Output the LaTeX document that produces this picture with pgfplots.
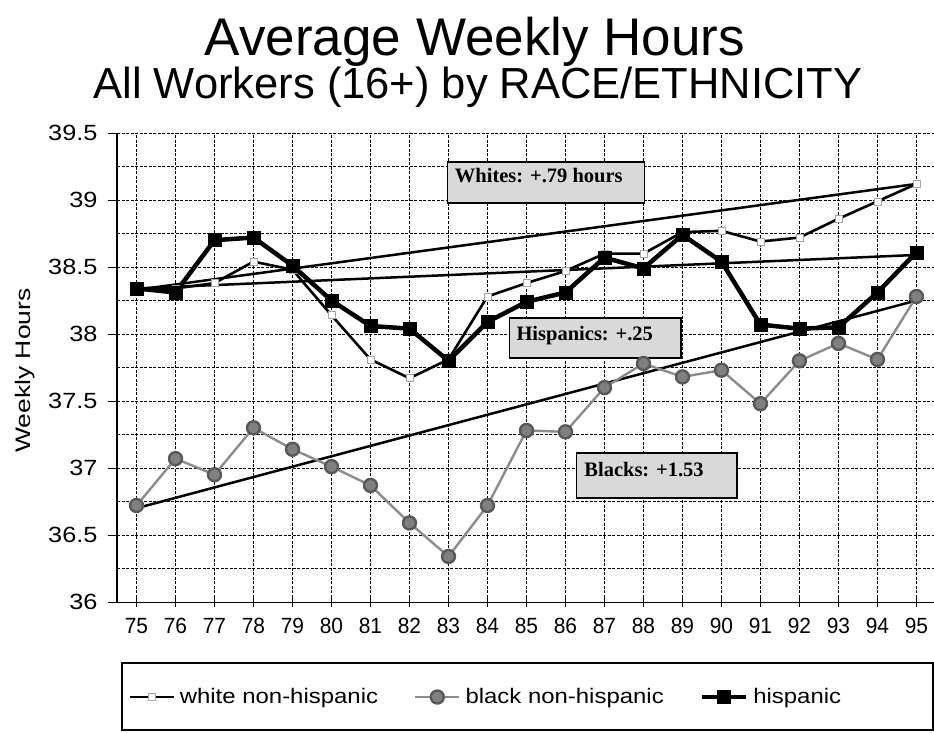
\documentclass[border=0pt]{standalone}
\usepackage{fontspec}
\setmainfont{Liberation Sans}
\newfontfamily\timesf{Liberation Serif}
\newfontfamily\widesans[FakeStretch=1.26]{Liberation Sans}
\newfontfamily\ysans[FakeStretch=1.15]{Liberation Sans}
\newfontfamily\xsans[FakeStretch=0.95]{Liberation Sans}
\newfontfamily\legsans[FakeStretch=1.14]{Liberation Sans}
\usepackage{pgfplots}
\pgfplotsset{compat=1.18}
\begin{document}
\begin{tikzpicture}[x=1pt,y=1pt]
\useasboundingbox (0,0) rectangle (934,732);
\node[anchor=base,font=\fontsize{53}{53}\selectfont] at (475,676.5) {Average Weekly Hours};
\node[anchor=base,font=\fontsize{43.5}{43.5}\selectfont] at (478,633) {All Workers (16+) by RACE/ETHNICITY};
\node[rotate=90,font=\widesans\fontsize{21}{21}\selectfont] at (25,361.5) {Weekly Hours};
\begin{axis}[
  at={(117pt,130pt)}, anchor=south west,
  scale only axis, width=817pt, height=469pt,
  xmin=74.5, xmax=95.45, ymin=36, ymax=39.5,
  xtick={75,...,95}, ytick={36,36.5,...,39.5},
  minor ytick={36.25,36.75,...,39.25},
  axis x line*=bottom, axis y line*=left,
  axis line style={-, black},
  x axis line style={line width=1pt},
  y axis line style={line width=2pt},
  grid=both,
  major grid style={black, line width=0.75pt, dash pattern=on 3pt off 1.5pt},
  minor grid style={black, line width=0.75pt, dash pattern=on 3pt off 1.5pt},
  minor tick length=0pt,
  xtick style={black, line width=0.8pt},
  ytick style={black, line width=0.8pt},
  xtick align=center, ytick align=outside,
  major tick length=9pt,
  xticklabel style={font=\xsans\fontsize{22}{22}\selectfont, yshift=-8pt},
  yticklabel style={font=\ysans\fontsize{22}{22}\selectfont, xshift=-7pt},
  /pgf/number format/assume math mode=true,
  clip=false,
  legend image code/.code={\draw[mark repeat=2,mark phase=2] plot coordinates {(0pt,0pt)(22pt,0pt)(44pt,0pt)};},
  legend style={draw=none, fill=none, at={(0.0135,-0.2026)}, anchor=west,
    legend columns=3, inner sep=0pt,
    /tikz/every even column/.append style={column sep=34pt},
    /tikz/every odd column/.append style={column sep=3pt},
    font=\legsans\fontsize{21}{21}\selectfont},
]
% trend lines
\addplot[black, line width=2.5pt, forget plot] coordinates {(75,38.33) (95,39.12)};
\addplot[black, line width=2.5pt, forget plot] coordinates {(75,38.34) (95,38.59)};
\addplot[black, line width=2.5pt, forget plot] coordinates {(75,36.70) (95,38.25)};
% white non-hispanic
\addplot[black, line width=2.6pt, mark=square*, mark size=3.5pt,
  mark options={fill=white, draw=gray!70, solid, line width=0.5pt}] coordinates {
(75,38.33) (76,38.34) (77,38.38) (78,38.54) (79,38.48) (80,38.14) (81,37.81)
(82,37.67) (83,37.81) (84,38.28) (85,38.38) (86,38.47) (87,38.60) (88,38.60)
(89,38.76) (90,38.77) (91,38.69) (92,38.72) (93,38.86) (94,38.99) (95,39.12)};
\addlegendentry{white non-hispanic}
% black non-hispanic
\addplot[black!45, line width=2.4pt, mark=*, mark size=6.5pt,
  mark options={fill=black!50, draw=black!65, solid}] coordinates {
(75,36.72) (76,37.07) (77,36.95) (78,37.30) (79,37.14) (80,37.01) (81,36.87)
(82,36.59) (83,36.34) (84,36.72) (85,37.28) (86,37.27) (87,37.60) (88,37.78)
(89,37.68) (90,37.73) (91,37.48) (92,37.80) (93,37.93) (94,37.81) (95,38.28)};
\addlegendentry{black non-hispanic}
% hispanic
\addplot[black, line width=4.5pt, mark=square*, mark size=6.5pt,
  mark options={fill=black, solid, line width=0.5pt}] coordinates {
(75,38.34) (76,38.31) (77,38.70) (78,38.72) (79,38.51) (80,38.25) (81,38.06)
(82,38.04) (83,37.80) (84,38.09) (85,38.24) (86,38.31) (87,38.57) (88,38.49)
(89,38.74) (90,38.54) (91,38.07) (92,38.04) (93,38.05) (94,38.31) (95,38.61)};
\addlegendentry{hispanic}
% annotation boxes
\draw[black, line width=1.5pt, fill=gray!30] (axis cs:82.98,39.284) rectangle (axis cs:88.02,38.978);
\node[anchor=base west, font=\timesf\bfseries\fontsize{20.5}{20.5}\selectfont, inner sep=0pt] at (axis cs:83.16,39.127) {Whites: +.79 hours};
\draw[black, line width=1.5pt, fill=gray!30] (axis cs:84.57,38.119) rectangle (axis cs:88.96,37.82);
\node[anchor=base west, font=\timesf\bfseries\fontsize{20.5}{20.5}\selectfont, inner sep=0pt] at (axis cs:84.74,37.955) {Hispanics: +.25};
\draw[black, line width=1.5pt, fill=gray!30] (axis cs:86.28,37.112) rectangle (axis cs:90.40,36.776);
\node[anchor=base west, font=\timesf\bfseries\fontsize{20.5}{20.5}\selectfont, inner sep=0pt] at (axis cs:86.48,36.933) {Blacks: +1.53};
\end{axis}
\draw[black, line width=1.8pt] (122,2) rectangle (933,69);
\end{tikzpicture}
\end{document}
